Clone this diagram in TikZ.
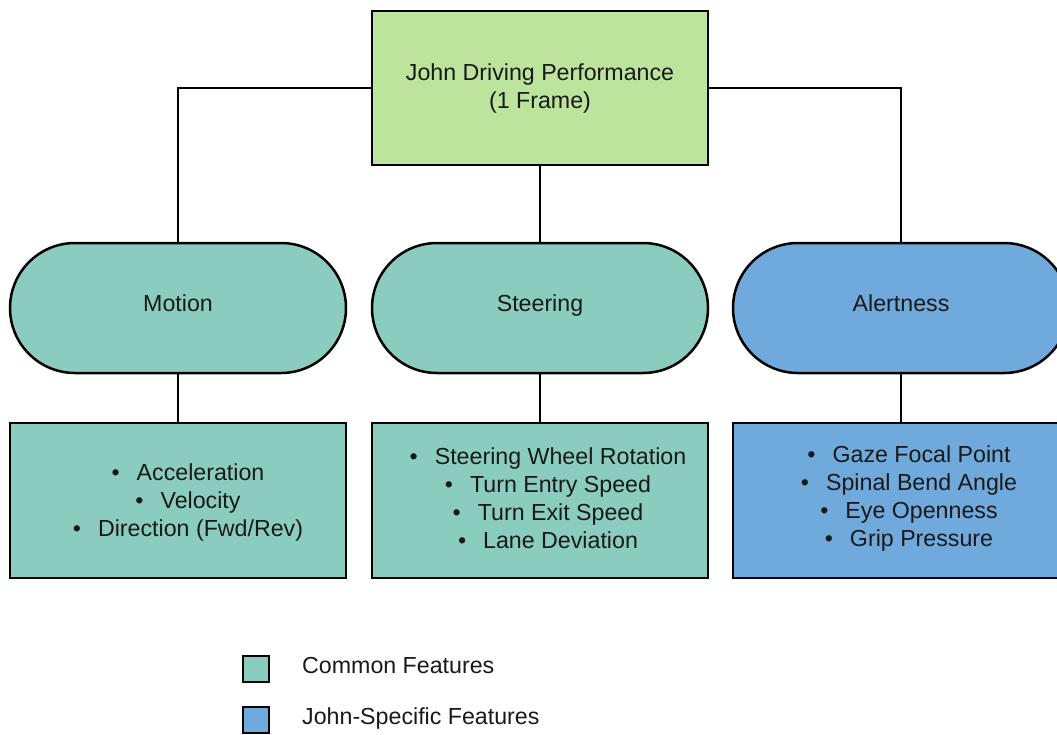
\documentclass[tikz,border=0pt]{standalone}
\usepackage{fontspec}
\setmainfont{Liberation Sans}
\definecolor{rootgreen}{RGB}{188,228,156}
\definecolor{commonteal}{RGB}{138,205,191}
\definecolor{johnblue}{RGB}{112,170,221}
\definecolor{inkgray}{RGB}{25,25,25}
\newcommand{\itembullet}{\textbullet\hspace{17pt}}
\begin{document}
\begin{tikzpicture}[x=1pt,y=-1pt,
  every node/.style={font=\fontsize{23.2}{28}\selectfont, text=inkgray},
  box/.style={draw=black, line width=2.5pt, minimum width=336pt, minimum height=154pt, inner sep=0pt, align=center},
  stadium/.style={draw=black, line width=2.5pt, rectangle, rounded corners=65pt, minimum width=336pt, minimum height=130pt, inner sep=0pt, text depth=10pt},
  link/.style={draw=black, line width=2pt},
  legsq/.style={draw=black, line width=2.5pt, minimum width=26pt, minimum height=26pt, inner sep=0pt}
]
\clip (0,0) rectangle (1057,734);

% root
\node[box, fill=rootgreen] (top) at (540,88) {John Driving Performance\\(1 Frame)};

% categories
\node[stadium, fill=commonteal] (motion) at (178,308) {Motion};
\node[stadium, fill=commonteal] (steering) at (540,308) {Steering};
\node[stadium, fill=johnblue] (alertness) at (901,308) {Alertness};

% feature lists
\node[box, fill=commonteal, minimum height=155pt] (motionf) at (178,500.5) {};
\node[box, fill=commonteal, minimum height=155pt] (steeringf) at (540,500.5) {};
\node[box, fill=johnblue, minimum height=155pt] (alertnessf) at (901,500.5) {};

\node[align=center] (motiontxt) at (188,502) {%
\itembullet Acceleration\\
\itembullet Velocity\\
\itembullet Direction (Fwd/Rev)};
\node[align=center] (steeringtxt) at (548,498) {%
\itembullet Steering Wheel Rotation\\
\itembullet Turn Entry Speed\\
\itembullet Turn Exit Speed\\
\itembullet Lane Deviation};
\node[align=center] (alertnesstxt) at (909,498) {%
\itembullet Gaze Focal Point\\
\itembullet Spinal Bend Angle\\
\itembullet Eye Openness\\
\itembullet Grip Pressure};

% connectors
\draw[link] (top.west) -| (motion.north);
\draw[link] (top.south) -- (steering.north);
\draw[link] (top.east) -| (alertness.north);
\draw[link] (motion.south) -- (motionf.north);
\draw[link] (steering.south) -- (steeringf.north);
\draw[link] (alertness.south) -- (alertnessf.north);

% legend
\node[legsq, fill=commonteal] (leg1) at (256,669) {};
\node[legsq, fill=johnblue] (leg2) at (256,720) {};
\node[anchor=west, inner sep=0pt] (leg1txt) at (302,666) {Common Features};
\node[anchor=west, inner sep=0pt] (leg2txt) at (302,718) {John-Specific Features};
\end{tikzpicture}
\end{document}
